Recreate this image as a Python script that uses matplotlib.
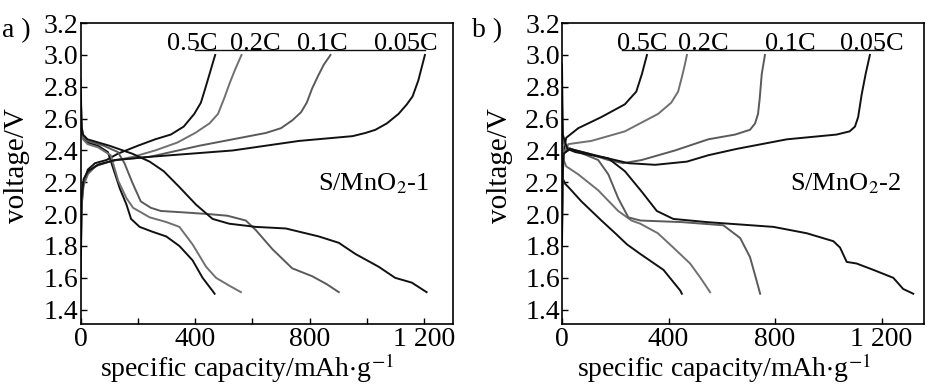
import matplotlib
matplotlib.use("Agg")
import matplotlib.pyplot as plt

plt.rcParams['font.family'] = ['Liberation Serif', 'DejaVu Serif']
plt.rcParams['mathtext.fontset'] = 'stix'

# --- data (capacity mAh/g, voltage V) ---
rates = ['0.5C', '0.2C', '0.1C', '0.05C']
rate_colors = ['#111111', '#707070', '#5a5a5a', '#111111']

# panel a: S/MnO2-1, charge
a_chg_05_x = [0, 3, 10, 25, 50, 90, 130, 200, 260, 315, 360, 397, 420, 432, 447, 460, 470]
a_chg_05_y = [1.60, 2.05, 2.20, 2.28, 2.32, 2.34, 2.38, 2.43, 2.47, 2.50, 2.55, 2.63, 2.70, 2.77, 2.86, 2.94, 3.00]
a_chg_02_x = [0, 3, 10, 25, 50, 100, 183, 260, 338, 400, 450, 480, 502, 520, 540, 562]
a_chg_02_y = [1.65, 2.05, 2.18, 2.25, 2.30, 2.33, 2.36, 2.40, 2.45, 2.51, 2.57, 2.63, 2.73, 2.82, 2.91, 3.00]
a_chg_01_x = [0, 3, 10, 25, 60, 120, 241, 415, 560, 647, 700, 740, 770, 790, 809, 830, 850, 873]
a_chg_01_y = [1.70, 2.10, 2.20, 2.26, 2.31, 2.34, 2.36, 2.43, 2.48, 2.51, 2.54, 2.59, 2.64, 2.70, 2.79, 2.87, 2.94, 3.00]
a_chg_005_x = [0, 3, 10, 25, 60, 120, 241, 531, 763, 950, 995, 1030, 1070, 1111, 1140, 1160, 1180, 1203]
a_chg_005_y = [1.75, 2.10, 2.22, 2.27, 2.31, 2.34, 2.36, 2.40, 2.46, 2.49, 2.51, 2.53, 2.57, 2.63, 2.69, 2.74, 2.84, 3.00]

# panel a: discharge
a_dis_05_x = [0, 3, 8, 24, 60, 95, 115, 137, 160, 176, 206, 250, 299, 345, 391, 426, 460, 468]
a_dis_05_y = [2.78, 2.55, 2.48, 2.45, 2.43, 2.39, 2.28, 2.16, 2.06, 1.97, 1.92, 1.89, 1.86, 1.80, 1.71, 1.60, 1.52, 1.50]
a_dis_02_x = [0, 3, 8, 24, 60, 105, 131, 160, 183, 241, 300, 345, 391, 438, 473, 520, 560]
a_dis_02_y = [2.65, 2.52, 2.47, 2.44, 2.42, 2.37, 2.21, 2.10, 2.04, 1.98, 1.95, 1.92, 1.81, 1.67, 1.60, 1.55, 1.51]
a_dis_01_x = [0, 3, 8, 24, 80, 130, 153, 180, 210, 245, 280, 369, 450, 513, 577, 612, 670, 739, 809, 860, 902]
a_dis_01_y = [2.85, 2.55, 2.49, 2.46, 2.43, 2.39, 2.32, 2.20, 2.08, 2.04, 2.02, 2.01, 2.00, 1.99, 1.96, 1.90, 1.78, 1.66, 1.61, 1.56, 1.51]
a_dis_005_x = [0, 3, 8, 24, 100, 180, 241, 290, 345, 403, 461, 519, 612, 717, 832, 902, 960, 1041, 1099, 1157, 1209]
a_dis_005_y = [2.75, 2.55, 2.50, 2.47, 2.43, 2.38, 2.33, 2.27, 2.17, 2.06, 1.97, 1.94, 1.92, 1.91, 1.86, 1.82, 1.75, 1.67, 1.60, 1.57, 1.51]

# panel b: S/MnO2-2, charge
b_chg_05_x = [0, 2, 6, 16, 61, 148, 236, 279, 300, 319]
b_chg_05_y = [1.85, 2.20, 2.40, 2.48, 2.54, 2.61, 2.69, 2.77, 2.88, 3.00]
b_chg_02_x = [0, 2, 6, 24, 110, 236, 361, 410, 436, 450, 460, 469]
b_chg_02_y = [1.90, 2.20, 2.38, 2.44, 2.46, 2.52, 2.63, 2.70, 2.77, 2.86, 2.93, 3.00]
b_chg_01_x = [0, 2, 6, 30, 100, 174, 230, 299, 424, 549, 650, 706, 725, 736, 742, 750, 762]
b_chg_01_y = [1.95, 2.25, 2.38, 2.41, 2.38, 2.34, 2.32, 2.34, 2.40, 2.47, 2.50, 2.53, 2.57, 2.63, 2.72, 2.88, 3.00]
b_chg_005_x = [0, 2, 6, 30, 100, 174, 250, 350, 469, 549, 656, 844, 1031, 1080, 1100, 1112, 1125, 1140, 1156]
b_chg_005_y = [1.80, 2.20, 2.38, 2.41, 2.38, 2.35, 2.32, 2.31, 2.33, 2.37, 2.41, 2.47, 2.50, 2.52, 2.55, 2.61, 2.75, 2.88, 3.00]

# panel b: discharge
b_dis_05_x = [0, 4, 12, 24, 73, 148, 200, 244, 294, 381, 444, 450]
b_dis_05_y = [2.30, 2.22, 2.19, 2.17, 2.08, 1.96, 1.88, 1.81, 1.75, 1.65, 1.52, 1.50]
b_dis_02_x = [0, 4, 16, 61, 136, 211, 261, 294, 360, 418, 481, 520, 556]
b_dis_02_y = [2.55, 2.35, 2.30, 2.25, 2.15, 2.02, 1.96, 1.94, 1.88, 1.79, 1.69, 1.60, 1.51]
b_dis_01_x = [0, 4, 20, 49, 136, 174, 211, 249, 294, 450, 606, 669, 706, 731, 744]
b_dis_01_y = [2.70, 2.45, 2.42, 2.40, 2.34, 2.25, 2.10, 1.98, 1.96, 1.95, 1.93, 1.85, 1.73, 1.58, 1.50]
b_dis_005_x = [0, 3, 20, 50, 174, 236, 300, 356, 418, 544, 794, 919, 1019, 1044, 1069, 1106, 1169, 1244, 1281, 1319]
b_dis_005_y = [2.94, 2.50, 2.41, 2.39, 2.35, 2.27, 2.14, 2.02, 1.97, 1.95, 1.92, 1.88, 1.83, 1.79, 1.70, 1.69, 1.65, 1.60, 1.53, 1.50]

# rate labels along the top, and the line under them
a_label_x = [300, 523, 756, 1024]
b_label_x = [206, 437, 762, 1044]
a_bar_x = [400, 1205]
b_bar_x = [225, 1206]
bar_y = 3.03

x_ticks_label = [0, 400, 800, 1200]
x_ticks_label_txt = ['0', '400', '800', '1 200']
y_ticks = [1.4, 1.6, 1.8, 2.0, 2.2, 2.4, 2.6, 2.8, 3.0, 3.2]

fig = plt.figure(figsize=(9.45, 3.92), dpi=100)
ax_a = fig.add_axes([0.0854, 0.1735, 0.3936, 0.7675])
ax_b = fig.add_axes([0.5947, 0.1735, 0.3833, 0.7675])

panels = [
    (ax_a, 'S/MnO$_2$-1', 1300, [0, 200, 400, 600, 800, 1000, 1200],
     [(a_chg_05_x, a_chg_05_y), (a_chg_02_x, a_chg_02_y), (a_chg_01_x, a_chg_01_y), (a_chg_005_x, a_chg_005_y)],
     [(a_dis_05_x, a_dis_05_y), (a_dis_02_x, a_dis_02_y), (a_dis_01_x, a_dis_01_y), (a_dis_005_x, a_dis_005_y)],
     a_label_x, a_bar_x),
    (ax_b, 'S/MnO$_2$-2', 1360, [0, 400, 800, 1200],
     [(b_chg_05_x, b_chg_05_y), (b_chg_02_x, b_chg_02_y), (b_chg_01_x, b_chg_01_y), (b_chg_005_x, b_chg_005_y)],
     [(b_dis_05_x, b_dis_05_y), (b_dis_02_x, b_dis_02_y), (b_dis_01_x, b_dis_01_y), (b_dis_005_x, b_dis_005_y)],
     b_label_x, b_bar_x),
]

for ax, name, xmax, minor_x, chg, dis, lab_x, bar_x in panels:
    for i in range(4):
        ax.plot(chg[i][0], chg[i][1], color=rate_colors[i], lw=1.4, solid_joinstyle='round')
        ax.plot(dis[i][0], dis[i][1], color=rate_colors[i], lw=1.4, solid_joinstyle='round')

    # rate labels
    ax.plot(bar_x, [bar_y, bar_y], color='#111111', lw=1.0)
    for lx, txt in zip(lab_x, rates):
        ax.text(lx, bar_y, txt, fontsize=19, ha='left', va='baseline')

    ax.text(xmax * 0.935, 2.19, name, fontsize=19, ha='right', va='center')

    ax.set_xlim(0, xmax)
    ax.set_ylim(1.31, 3.2)
    ax.set_yticks(y_ticks)
    ax.set_yticklabels([f'{v:.1f}' for v in y_ticks])
    ax.set_xticks(minor_x, minor=True)
    ax.set_xticks(x_ticks_label)
    ax.set_xticklabels(x_ticks_label_txt)
    ax.tick_params(axis='both', which='both', direction='in', length=4, width=1,
                   labelsize=20, top=False, right=False)
    ax.tick_params(axis='y', pad=1.5)
    ax.tick_params(axis='x', pad=2)
    for sp in ax.spines.values():
        sp.set_linewidth(1.2)

    ax.text(0.447, -0.148, 'specific capacity/mAh$\\cdot$g$^{-1}$', fontsize=20,
            ha='center', va='center', transform=ax.transAxes)
    ax.text(-0.172, 0.528, 'voltage/V', fontsize=21, rotation=90,
            ha='center', va='center', transform=ax.transAxes)

fig.text(0.002, 1 - 31 / 392, 'a )', fontsize=20, ha='left', va='center')
fig.text(0.5, 1 - 31 / 392, 'b )', fontsize=20, ha='left', va='center')

fig.savefig('out.png', dpi=100)
